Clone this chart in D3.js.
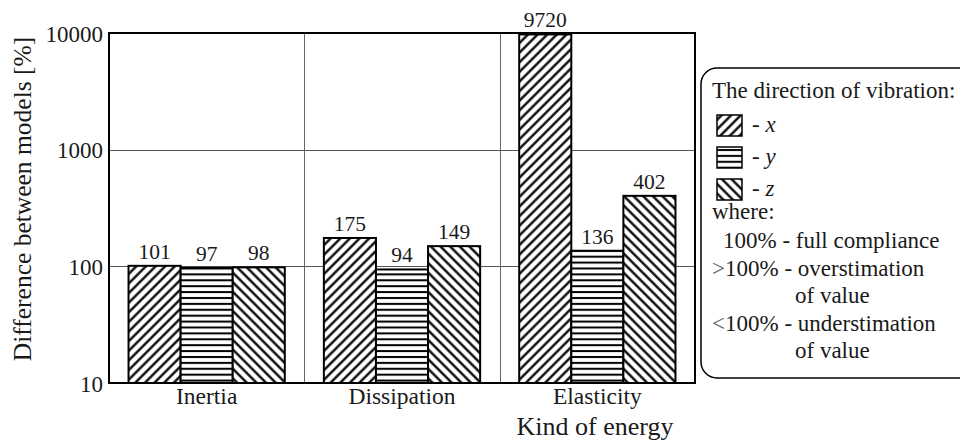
<!DOCTYPE html>
<html>
<head>
<meta charset="utf-8">
<script src="https://cdn.jsdelivr.net/npm/d3@7"></script>
<style>
  body { margin: 0; background: #fff; }
  text { font-family: "Liberation Serif", "DejaVu Serif", serif; fill: #1a1a1a; }
</style>
</head>
<body>
<svg id="chart" width="960" height="441"></svg>
<script>
// data
var categories = ["Inertia", "Dissipation", "Elasticity"];
var directions = ["x", "y", "z"];
var valuesX = [101, 175, 9720];
var valuesY = [97, 94, 136];
var valuesZ = [98, 149, 402];
var yTicks = [10, 100, 1000, 10000];
var noteLines = [
  {pre: "", text: "100% - full compliance"},
  {pre: ">", text: "100% - overstimation"},
  {pre: "", text: "of value", indent: true},
  {pre: "<", text: "100% - understimation"},
  {pre: "", text: "of value", indent: true}
];

var series = [valuesX, valuesY, valuesZ];

var svg = d3.select("#chart");
var plotL = 109, plotR = 695, plotT = 33, plotB = 383;

// hatch patterns
var defs = svg.append("defs");
function diag(id, angle) {
  var s = 6.8;
  var p = defs.append("pattern").attr("id", id)
    .attr("patternUnits", "userSpaceOnUse")
    .attr("width", s).attr("height", s)
    .attr("patternTransform", "rotate(" + angle + ")");
  p.append("rect").attr("width", s).attr("height", s).attr("fill", "#fff");
  p.append("line").attr("x1", s / 2).attr("x2", s / 2).attr("y1", -1).attr("y2", s + 1)
    .attr("stroke", "#000").attr("stroke-width", 2.3);
}
diag("hatch-x", 45);
diag("hatch-z", -45);
var ph = defs.append("pattern").attr("id", "hatch-y")
  .attr("patternUnits", "userSpaceOnUse").attr("width", 6).attr("height", 5.9);
ph.append("rect").attr("width", 6).attr("height", 5.9).attr("fill", "#fff");
ph.append("line").attr("x1", -1).attr("x2", 7).attr("y1", 3).attr("y2", 3)
  .attr("stroke", "#000").attr("stroke-width", 2);

var fills = {x: "url(#hatch-x)", y: "url(#hatch-y)", z: "url(#hatch-z)"};

// scales
var x0 = d3.scaleBand().domain(categories).range([plotL, plotR])
  .paddingInner(0.2).paddingOuter(0.1);
var x1 = d3.scaleBand().domain(directions).range([0, x0.bandwidth()]);
var y = d3.scaleLog().domain([10, 10000]).range([plotB, plotT]);
var step = x0.step();

// grid
var grid = svg.append("g");
grid.selectAll("line.h").data(yTicks.slice(1, 3)).join("line")
  .attr("x1", plotL).attr("x2", plotR)
  .attr("y1", function(d) { return Math.round(y(d)) + 0.5; })
  .attr("y2", function(d) { return Math.round(y(d)) + 0.5; })
  .attr("stroke", "#555").attr("stroke-width", 1);
grid.selectAll("line.v").data(categories.slice(1)).join("line")
  .attr("x1", function(d) { return Math.round(x0(d) - step * 0.1) + 0.5; })
  .attr("x2", function(d) { return Math.round(x0(d) - step * 0.1) + 0.5; })
  .attr("y1", plotT).attr("y2", plotB)
  .attr("stroke", "#666").attr("stroke-width", 1);

// bars
var groups = svg.append("g").selectAll("g").data(categories).join("g")
  .attr("transform", function(d) { return "translate(" + x0(d) + ",0)"; });

function rows(c, i) {
  return directions.map(function(dir, j) { return {dir: dir, v: series[j][i]}; });
}

groups.selectAll("rect").data(rows).join("rect")
  .attr("x", function(d) { return x1(d.dir); })
  .attr("width", x1.bandwidth())
  .attr("y", function(d) { return y(d.v); })
  .attr("height", function(d) { return plotB - y(d.v); })
  .attr("fill", function(d) { return fills[d.dir]; })
  .attr("stroke", "#000").attr("stroke-width", 2);

groups.selectAll("text").data(rows).join("text")
  .attr("x", function(d) { return x1(d.dir) + x1.bandwidth() / 2; })
  .attr("y", function(d) { return y(d.v) - 7; })
  .attr("text-anchor", "middle")
  .attr("font-size", 21.5)
  .text(function(d) { return d.v; });

// frame
svg.append("rect").attr("x", plotL).attr("y", plotT)
  .attr("width", plotR - plotL).attr("height", plotB - plotT)
  .attr("fill", "none").attr("stroke", "#000").attr("stroke-width", 2);

// axes
var yAxis = d3.axisLeft(y).tickValues(yTicks).tickSize(0).tickPadding(6)
  .tickFormat(d3.format("d"));
svg.append("g").attr("transform", "translate(" + plotL + ",0)").call(yAxis)
  .call(function(g) {
    g.select(".domain").remove();
    g.selectAll("text").attr("font-size", 23).attr("dy", "0.35em")
      .attr("font-family", "Liberation Serif").attr("fill", "#1a1a1a");
  });

var xAxis = d3.axisBottom(x0).tickSize(0).tickPadding(4);
svg.append("g").attr("transform", "translate(0," + plotB + ")").call(xAxis)
  .call(function(g) {
    g.select(".domain").remove();
    g.selectAll("text").attr("font-size", 23.5).attr("dy", "0.71em")
      .attr("font-family", "Liberation Serif").attr("fill", "#1a1a1a");
  });

svg.append("text")
  .attr("transform", "translate(31,199) rotate(-90)")
  .attr("text-anchor", "middle").attr("font-size", 25.5)
  .text("Difference between models [%]");

svg.append("text").attr("x", 595).attr("y", 435)
  .attr("text-anchor", "middle").attr("font-size", 26)
  .text("Kind of energy");

// legend
var lg = svg.append("g");
var fs = 23;
lg.append("rect").attr("x", 701).attr("y", 68).attr("width", 280).attr("height", 310)
  .attr("rx", 16).attr("fill", "#fff").attr("stroke", "#000").attr("stroke-width", 1.5);
lg.append("text").attr("x", 712).attr("y", 98).attr("font-size", fs)
  .text("The direction of vibration:");

var items = lg.selectAll("g.item").data(directions).join("g")
  .attr("transform", function(d, i) { return "translate(717," + (115 + i * 32) + ")"; });
items.append("rect").attr("width", 25).attr("height", 21)
  .attr("fill", function(d) { return fills[d]; })
  .attr("stroke", "#000").attr("stroke-width", 1.5);
items.append("text").attr("x", 35).attr("y", 17).attr("font-size", fs)
  .html(function(d) { return "- <tspan font-style='italic'>" + d + "</tspan>"; });

lg.append("text").attr("x", 712).attr("y", 219).attr("font-size", fs).text("where:");
lg.selectAll("text.note").data(noteLines).join("text")
  .attr("class", "note")
  .attr("x", function(d) { return d.indent ? 795 : (d.pre ? 712 : 723); })
  .attr("y", function(d, i) { return 248 + i * 27.5; })
  .attr("font-size", fs)
  .html(function(d) {
    return (d.pre ? "<tspan fill='#555'>" + (d.pre === "<" ? "&lt;" : "&gt;") + "</tspan>" : "") + d.text;
  });
</script>
</body>
</html>
